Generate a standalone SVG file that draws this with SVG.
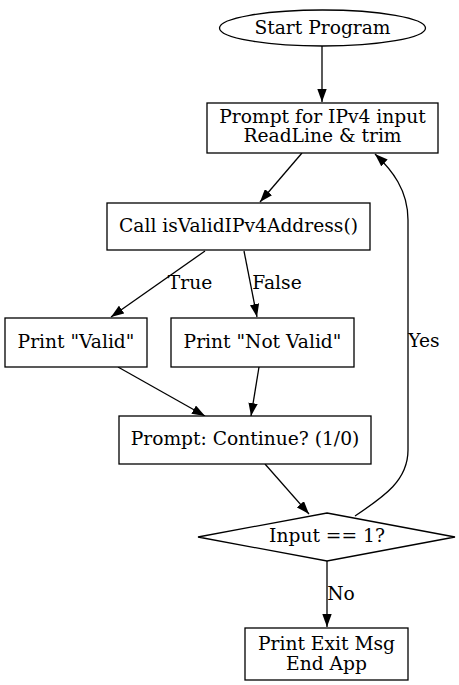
<svg xmlns="http://www.w3.org/2000/svg" width="459" height="685" viewBox="0 0 459 685">
<style>
.n{fill:#fff;stroke:#000;stroke-width:1.3}
.e{fill:none;stroke:#000;stroke-width:1.3}
text{font-family:"DejaVu Serif","Liberation Serif",serif;font-size:18.67px;fill:#000}
.c{text-anchor:middle}
</style>
<defs>
<marker id="a" viewBox="0 0 13 9.4" refX="13" refY="4.7" markerWidth="13" markerHeight="9.4" markerUnits="userSpaceOnUse" orient="auto"><path d="M0,0L13,4.7L0,9.4z" fill="#000"/></marker>
</defs>
<rect width="459" height="685" fill="#fff"/>
<g id="edges">
<path class="e" d="M322,46L322,102" marker-end="url(#a)"/>
<path class="e" d="M302,153L260,202" marker-end="url(#a)"/>
<path class="e" d="M205,251L111,317" marker-end="url(#a)"/>
<path class="e" d="M244,251L257,317" marker-end="url(#a)"/>
<path class="e" d="M118,367L205,416" marker-end="url(#a)"/>
<path class="e" d="M259,367L251,416" marker-end="url(#a)"/>
<path class="e" d="M265,464L309,514" marker-end="url(#a)"/>
<path class="e" d="M355,516C385,496 408,480 408,450L408,220C408,190 392,170 375,154" marker-end="url(#a)"/>
<path class="e" d="M327,561L327,627" marker-end="url(#a)"/>
<text x="190" y="289" class="c">True</text>
<text x="277" y="289" class="c">False</text>
<text x="424" y="347" class="c">Yes</text>
<text x="341" y="600" class="c">No</text>
</g>
<g id="start"><ellipse class="n" cx="322.5" cy="28" rx="103" ry="18"/><text x="322.5" y="34" class="c">Start Program</text></g>
<g id="prompt"><rect class="n" x="207" y="103" width="231" height="50"/><text x="322.5" y="123" class="c">Prompt for IPv4 input</text><text x="322.5" y="142" class="c">ReadLine &amp; trim</text></g>
<g id="call"><rect class="n" x="107" y="203" width="263" height="47"/><text x="238.5" y="232" class="c">Call isValidIPv4Address()</text></g>
<g id="valid"><rect class="n" x="5" y="318" width="142" height="49"/><text x="76" y="348" class="c">Print "Valid"</text></g>
<g id="notvalid"><rect class="n" x="171" y="318" width="183" height="49"/><text x="262.5" y="348" class="c">Print "Not Valid"</text></g>
<g id="continue"><rect class="n" x="119" y="416" width="252" height="48"/><text x="245" y="445" class="c">Prompt: Continue? (1/0)</text></g>
<g id="decision"><polygon class="n" points="327,513 455,537 327,561 198,537"/><text x="327" y="542" class="c">Input == 1?</text></g>
<g id="exit"><rect class="n" x="245" y="628" width="163" height="52"/><text x="326.5" y="650" class="c">Print Exit Msg</text><text x="326.5" y="670" class="c">End App</text></g>
</svg>
